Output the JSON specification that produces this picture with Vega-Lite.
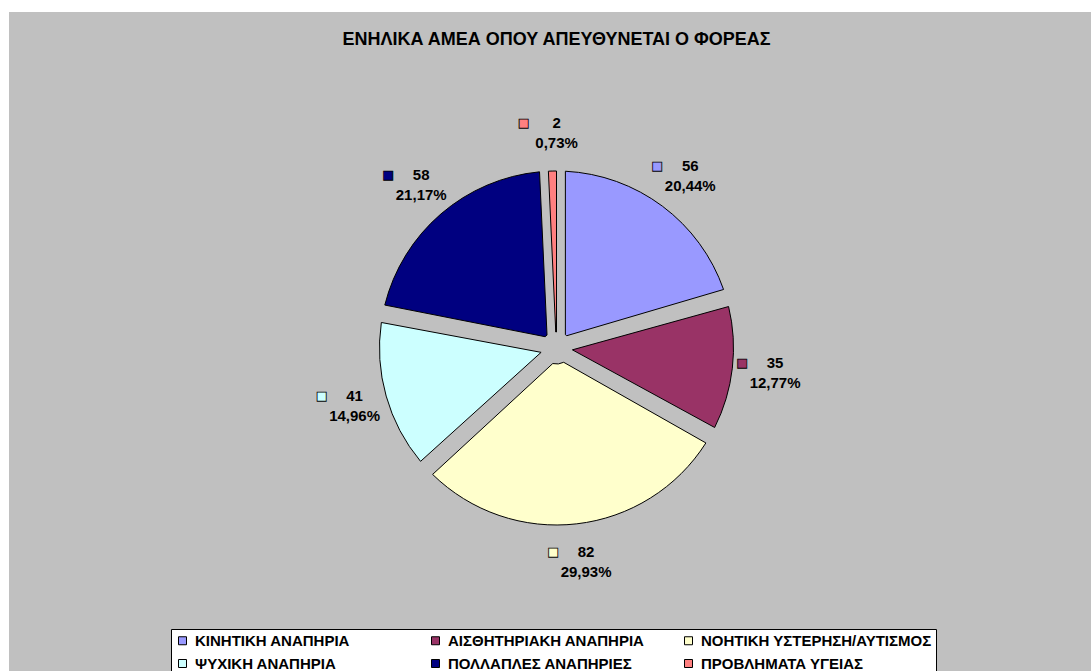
{
  "$schema": "https://vega.github.io/schema/vega-lite/v6.json",
  "width": 1095,
  "height": 672,
  "autosize": {"type": "none"},
  "padding": {"left": 9, "top": 12, "right": 0, "bottom": 0},
  "background": "white",
  "view": {"fill": "#C0C0C0", "stroke": null},
  "title": {
    "text": "ΕΝΗΛΙΚΑ ΑΜΕΑ ΟΠΟΥ ΑΠΕΥΘΥΝΕΤΑΙ Ο ΦΟΡΕΑΣ",
    "font": "Liberation Sans",
    "fontSize": 18,
    "fontWeight": "bold",
    "color": "black",
    "anchor": "middle",
    "frame": "group",
    "orient": "top",
    "offset": -51,
    "baseline": "alphabetic"
  },
  "data": {
    "values": [
      {"order": 1, "category": "ΚΙΝΗΤΙΚΗ ΑΝΑΠΗΡΙΑ", "value": 56, "pct": "20,44%"},
      {"order": 2, "category": "ΑΙΣΘΗΤΗΡΙΑΚΗ ΑΝΑΠΗΡΙΑ", "value": 35, "pct": "12,77%"},
      {"order": 3, "category": "ΝΟΗΤΙΚΗ ΥΣΤΕΡΗΣΗ/ΑΥΤΙΣΜΟΣ", "value": 82, "pct": "29,93%"},
      {"order": 4, "category": "ΨΥΧΙΚΗ ΑΝΑΠΗΡΙΑ", "value": 41, "pct": "14,96%"},
      {"order": 5, "category": "ΠΟΛΛΑΠΛΕΣ ΑΝΑΠΗΡΙΕΣ", "value": 58, "pct": "21,17%"},
      {"order": 6, "category": "ΠΡΟΒΛΗΜΑΤΑ ΥΓΕΙΑΣ", "value": 2, "pct": "0,73%"}
    ]
  },
  "encoding": {
    "theta": {"field": "value", "type": "quantitative", "stack": true},
    "order": {"field": "order", "type": "quantitative"}
  },
  "layer": [
    {
      "mark": {"type": "arc", "outerRadius": 177, "innerRadius": 16, "padAngle": 0.1, "stroke": "black", "strokeWidth": 1},
      "encoding": {
        "color": {
          "field": "category",
          "type": "nominal",
          "scale": {
            "domain": ["ΚΙΝΗΤΙΚΗ ΑΝΑΠΗΡΙΑ", "ΑΙΣΘΗΤΗΡΙΑΚΗ ΑΝΑΠΗΡΙΑ", "ΝΟΗΤΙΚΗ ΥΣΤΕΡΗΣΗ/ΑΥΤΙΣΜΟΣ", "ΨΥΧΙΚΗ ΑΝΑΠΗΡΙΑ", "ΠΟΛΛΑΠΛΕΣ ΑΝΑΠΗΡΙΕΣ", "ΠΡΟΒΛΗΜΑΤΑ ΥΓΕΙΑΣ"],
            "range": ["#9999FF", "#993366", "#FFFFCC", "#CCFFFF", "#000080", "#FF8080"]
          },
          "legend": {
            "title": null,
            "orient": "none",
            "legendX": 162,
            "legendY": 617,
            "direction": "horizontal",
            "columns": 3,
            "gridAlign": "all",
            "fillColor": "white",
            "strokeColor": "black",
            "padding": 4,
            "symbolType": "square",
            "symbolSize": 64,
            "symbolStrokeColor": "black",
            "symbolStrokeWidth": 1,
            "symbolOpacity": 1,
            "labelFont": "Liberation Sans",
            "labelFontSize": 15,
            "labelFontWeight": "bold",
            "labelColor": "black",
            "labelLimit": 400,
            "labelOffset": 5,
            "columnPadding": 2,
            "rowPadding": 7
          }
        }
      }
    },
    {
      "mark": {"type": "arc", "outerRadius": 177, "innerRadius": 16, "padAngle": 0, "stroke": "black", "strokeWidth": 1},
      "encoding": {
        "color": {"field": "category", "type": "nominal", "legend": null},
        "opacity": {"condition": {"test": "datum.value < 5", "value": 1}, "value": 0}
      }
    },
    {
      "mark": {"type": "text", "radius": 215, "dx": 5, "dy": -10, "font": "Liberation Sans", "fontSize": 15, "fontWeight": "bold", "fill": "black", "align": "center", "baseline": "middle"},
      "encoding": {"text": {"field": "value", "type": "quantitative"}}
    },
    {
      "mark": {"type": "text", "radius": 215, "dx": 5, "dy": 10, "font": "Liberation Sans", "fontSize": 15, "fontWeight": "bold", "fill": "black", "align": "center", "baseline": "middle"},
      "encoding": {"text": {"field": "pct", "type": "nominal"}}
    },
    {
      "mark": {"type": "text", "radius": 215, "dx": -28, "dy": -10, "font": "DejaVu Sans", "fontSize": 12, "stroke": "black", "strokeWidth": 0.8, "align": "center", "baseline": "middle"},
      "encoding": {
        "text": {"value": "■"},
        "color": {"field": "category", "type": "nominal", "legend": null}
      }
    }
  ]
}
